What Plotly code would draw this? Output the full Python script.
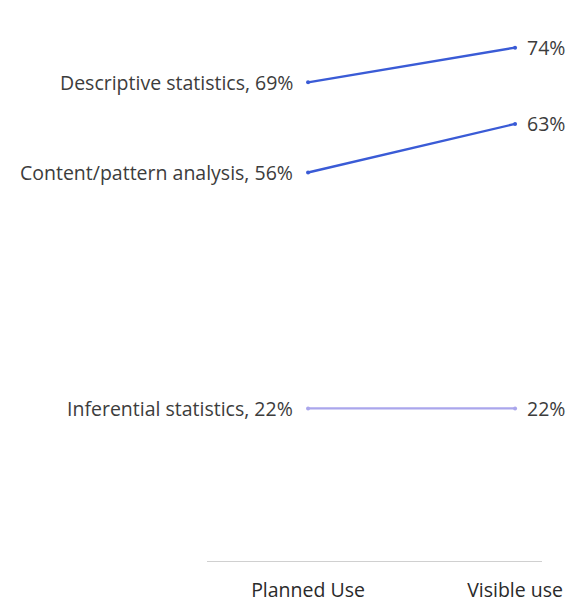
import plotly.graph_objects as go

# Slope chart: planned vs. visible use of analysis methods
periods = ["Planned Use", "Visible use"]
methods = ["Descriptive statistics", "Content/pattern analysis", "Inferential statistics"]
planned = [69, 56, 22]
visible = [74, 63, 22]
colors = ["#3a5bd6", "#3a5bd6", "#aaa6ec"]

x_pos = [0, 1]
label_font = dict(family="'Open Sans', sans-serif", size=19.5, color="#3c3c3c")

fig = go.Figure()
for name, p, v, c in zip(methods, planned, visible, colors):
    fig.add_trace(go.Scatter(
        x=x_pos, y=[p, v], mode="lines+markers", name=name,
        line=dict(color=c, width=2.4),
        marker=dict(color=c, size=4),
        showlegend=False, hoverinfo="skip",
    ))
    fig.add_annotation(
        x=x_pos[0], y=p, text=f"{name}, {p}%", showarrow=False,
        xanchor="right", yanchor="middle", xshift=-13,
        font=label_font,
    )
    fig.add_annotation(
        x=x_pos[1], y=v, text=f"{v}%", showarrow=False,
        xanchor="left", yanchor="middle", xshift=10,
        font=label_font,
    )

fig.update_layout(
    width=574, height=610,
    margin=dict(l=207, r=32, t=6, b=49),
    paper_bgcolor="white", plot_bgcolor="white",
    font=dict(family="'Open Sans', sans-serif", color="#333333"),
)
fig.update_xaxes(
    range=[-0.488, 1.13], tickvals=x_pos, ticktext=periods,
    showgrid=False, zeroline=False,
    showline=True, linecolor="#d0d0d0", linewidth=1,
    ticks="outside", ticklen=12, tickcolor="rgba(0,0,0,0)",
    tickfont=dict(family="'Open Sans', sans-serif", size=19.5, color="#2a2a2a"),
)
fig.update_yaxes(range=[0, 80], visible=False)

fig.write_html("out.html")
